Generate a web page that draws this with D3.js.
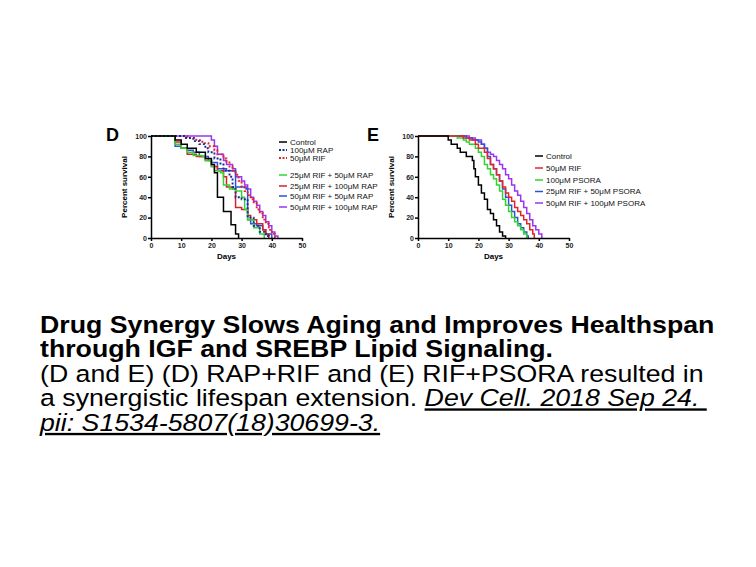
<!DOCTYPE html>
<html>
<head>
<meta charset="utf-8">
<script src="https://cdn.jsdelivr.net/npm/d3@7"></script>
<style>
	body { margin: 0; background: #fff; }
	svg { display: block; font-family: "Liberation Sans", Arial, sans-serif; }
	.axis path, .axis line { stroke: #000; stroke-width: 1.5; }
	.axis text { font-size: 7px; font-weight: bold; fill: #222; }
	.legend text { font-size: 8px; fill: #111; }
</style>
</head>
<body>
<div id="chart"></div>
<script>
// shared ticks
const xTicks = [0, 10, 20, 30, 40, 50];
const yTicks = [0, 20, 40, 60, 80, 100];

// Panel D: [day, percent survival]
const dControl = [[0,100],[8,96],[10,92],[12,88],[15,84],[18,78],[20,72],[21,64],[22,40],[24,26],[26.5,13],[28,4],[29,0]];
const dRap100 = [[0,100],[11,98],[14,95],[16,92],[18,88],[19,84],[21,78],[23,72],[24,66],[26,60],[27,50],[28,40],[30,38],[32,20],[34,12],[36,6],[38,2],[39,0]];
const dRif50 = [[0,100],[12,98],[15,96],[17,93],[19,90],[21,86],[22,82],[24,78],[25,74],[26,70],[27,66],[28,62],[29,56],[30,50],[31,46],[32,42],[33,38],[34,34],[35,28],[36,24],[37,18],[38,14],[39,8],[40,4],[41,0]];
const dRif25Rap50 = [[0,100],[8,92],[10,88],[12,84],[14,81],[17,80],[18,76],[20,70],[21,66],[23,64],[24,52],[26,48],[28,46],[30,40],[31,28],[32,18],[34,10],[36,4],[37.5,0]];
const dRif25Rap100 = [[0,100],[8,94],[10,88],[12,82],[15,80],[18,76],[20,70],[22,66],[24,60],[25,50],[27,48],[28,30],[30,28],[32,22],[33,18],[35,14],[37,8],[38,4],[39,0]];
const dRif50Rap50 = [[0,100],[8,90],[10,88],[12,86],[14,84],[16,80],[19,76],[20,74],[22,68],[25,66],[28,50],[31.5,48],[32,18],[33,14],[35,12],[37,8],[38,4],[40,0]];
const dRif50Rap100 = [[0,100],[20,96],[21,90],[22,82],[24,76],[25,72],[27,68],[28,60],[30,56],[31,52],[32,48],[33,40],[34,36],[35,32],[36,26],[37,22],[38,16],[39,12],[40,6],[41,2],[42,0]];

// Panel E
const eControl = [[0,100],[10,96],[11,92],[13,88],[14,84],[16,80],[18,76],[18.5,68],[19,60],[20,52],[21,44],[22,38],[23,28],[24,24],[25,18],[26,12],[27,6],[28,2],[29,0]];
const eRif50 = [[0,100],[15,98],[17,96],[19,92],[20,88],[22,84],[23,78],[24,72],[25,68],[26,62],[27,56],[28,50],[29,44],[30,40],[31,36],[32,30],[33,26],[34,22],[35,18],[36,14],[37,8],[38,4],[38.5,0]];
const ePsora100 = [[0,100],[13,98],[15,96],[16,94],[17,92],[19,88],[20,84],[21,80],[22,72],[23,68],[24,62],[25,58],[26,52],[27,46],[28,38],[29,32],[30,26],[31,20],[32,16],[33,12],[34,8],[35,4],[36,0]];
const eRif25Psora50 = [[0,100],[16,98],[18,96],[20,94],[21,92],[22,88],[23,80],[24,72],[25,68],[26,62],[27,56],[28,48],[29,40],[30,32],[31,26],[32,20],[33,14],[34,10],[35,6],[36,2],[36.5,0]];
const eRif50Psora100 = [[0,100],[17,98],[19,96],[21,92],[22,88],[23,84],[24,82],[25,80],[26,76],[27,72],[28,68],[29,62],[30,58],[31,52],[32,46],[33,42],[34,36],[35,30],[36,24],[37,18],[38,12],[39,8],[40,4],[41,0]];

const labelsD = ["Control", "100\u03bcM RAP", "50\u03bcM RIF", "25\u03bcM RIF + 50\u03bcM RAP", "25\u03bcM RIF + 100\u03bcM RAP", "50\u03bcM RIF + 50\u03bcM RAP", "50\u03bcM RIF + 100\u03bcM RAP"];
const labelsE = ["Control", "50\u03bcM RIF", "100\u03bcM PSORA", "25\u03bcM RIF + 50\u03bcM PSORA", "50\u03bcM RIF + 100\u03bcM PSORA"];

const svg = d3.select("#chart").append("svg")
	.attr("width", 756)
	.attr("height", 567);

svg.append("rect").attr("width", 756).attr("height", 567).attr("fill", "#fff");

function drawPanel({ left, top, width, height, letter, letterX, series, legend }) {
	const g = svg.append("g").attr("transform", `translate(${left}, ${top})`);

	const x = d3.scaleLinear().domain([0, 50]).range([0, width]);
	const y = d3.scaleLinear().domain([0, 100]).range([height, 0]);

	const line = d3.line()
		.x(d => x(d[0]))
		.y(d => y(d[1]))
		.curve(d3.curveStepAfter);

	// survival curves, drawn back to front
	series.slice().reverse().forEach(s => {
		g.append("path")
			.datum(s.data)
			.attr("fill", "none")
			.attr("stroke", s.color)
			.attr("stroke-width", s.dash ? 1.9 : 1.5)
			.attr("stroke-dasharray", s.dash ? "2,2" : null)
			.attr("d", line);
	});

	g.append("g")
		.attr("class", "axis")
		.attr("transform", `translate(0, ${height})`)
		.call(d3.axisBottom(x).tickValues(xTicks).tickSize(3).tickSizeOuter(0).tickPadding(2));

	g.append("g")
		.attr("class", "axis")
		.call(d3.axisLeft(y).tickValues(yTicks).tickSize(3).tickSizeOuter(0).tickPadding(1));

	g.append("text")
		.attr("x", width / 2)
		.attr("y", height + 21)
		.attr("text-anchor", "middle")
		.style("font-size", "8px")
		.style("font-weight", "bold")
		.text("Days");

	g.append("text")
		.attr("transform", `translate(-24, ${height / 2}) rotate(-90)`)
		.attr("text-anchor", "middle")
		.style("font-size", "8px")
		.style("font-weight", "bold")
		.text("Percent survival");

	svg.append("text")
		.attr("x", letterX)
		.attr("y", top + 5)
		.style("font-size", "18px")
		.style("font-weight", "bold")
		.text(letter);

	const lg = svg.append("g").attr("class", "legend");
	series.forEach((s, i) => {
		const ly = legend.rows[i];
		lg.append("line")
			.attr("x1", legend.x).attr("x2", legend.x + 8)
			.attr("y1", ly).attr("y2", ly)
			.attr("stroke", s.color)
			.attr("stroke-width", s.dash ? 1.9 : 1.5)
			.attr("stroke-dasharray", s.dash ? "2,1.5" : null);
		lg.append("text")
			.attr("x", legend.x + 11)
			.attr("y", ly)
			.attr("dy", "0.33em")
			.text(s.label);
	});
}

drawPanel({
	left: 151, top: 136, width: 151, height: 102, letter: "D", letterX: 106,
	series: [
		{ data: dControl, color: "#000", label: labelsD[0] },
		{ data: dRap100, color: "#1d2a96", dash: true, label: labelsD[1] },
		{ data: dRif50, color: "#e0262c", dash: true, label: labelsD[2] },
		{ data: dRif25Rap50, color: "#2fd62f", label: labelsD[3] },
		{ data: dRif25Rap100, color: "#d8202a", label: labelsD[4] },
		{ data: dRif50Rap50, color: "#2d52d8", label: labelsD[5] },
		{ data: dRif50Rap100, color: "#9b35f0", label: labelsD[6] }
	],
	legend: { x: 279, rows: [142, 150, 158, 175, 186, 196, 207] }
});

drawPanel({
	left: 418, top: 136, width: 151, height: 102, letter: "E", letterX: 367,
	series: [
		{ data: eControl, color: "#000", label: labelsE[0] },
		{ data: eRif50, color: "#e0262c", label: labelsE[1] },
		{ data: ePsora100, color: "#2fd62f", label: labelsE[2] },
		{ data: eRif25Psora50, color: "#2d52d8", label: labelsE[3] },
		{ data: eRif50Psora100, color: "#9b35f0", label: labelsE[4] }
	],
	legend: { x: 535, rows: [156, 168, 180, 191.5, 203] }
});

// caption (reference text is stretched a little horizontally)
const cap = svg.append("g")
	.attr("transform", "translate(40, 0) scale(1.137, 1)")
	.style("font-size", "23.5px")
	.attr("fill", "#000");
cap.append("text").attr("x", 0).attr("y", 333).style("font-weight", "bold")
	.text("Drug Synergy Slows Aging and Improves Healthspan");
cap.append("text").attr("x", 0).attr("y", 357).style("font-weight", "bold")
	.text("through IGF and SREBP Lipid Signaling.");
cap.append("text").attr("x", 0).attr("y", 382)
	.text("(D and E) (D) RAP+RIF and (E) RIF+PSORA resulted in");
const l4 = cap.append("text").attr("x", 0).attr("y", 406.5);
l4.append("tspan").text("a synergistic lifespan extension. ");
l4.append("tspan").style("font-style", "italic").style("text-decoration", "underline")
	.text("Dev Cell. 2018 Sep 24.\u00a0");
cap.append("text").attr("x", 0).attr("y", 431)
	.style("font-style", "italic").style("text-decoration", "underline")
	.text("pii: S1534-5807(18)30699-3.");
</script>
</body>
</html>
